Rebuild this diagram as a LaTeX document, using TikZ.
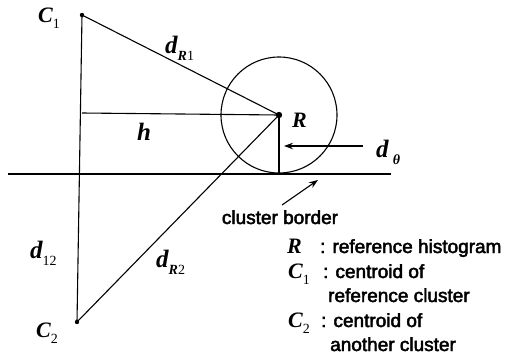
\documentclass[tikz,border=0pt]{standalone}
\usepackage{fontspec}
\setmainfont{Liberation Sans}[FakeBold=2.5]
\newfontfamily\mifont{Liberation Serif}
\usetikzlibrary{arrows.meta}
\newcommand\mv[1]{{\mifont\bfseries\itshape #1}}
\newcommand\mup[1]{{\mifont #1}}
\newcommand\sbs[1]{\raisebox{-0.3em}{\fontsize{14}{14}\selectfont #1}}
\begin{document}
\begin{tikzpicture}[x=1pt,y=-1pt,
  thinline/.style={line width=1.1pt},
  thickline/.style={line width=2.8pt},
  lab/.style={anchor=base west,inner sep=0pt,font=\fontsize{25}{25}\selectfont},
  capl/.style={anchor=base west,inner sep=0pt,font=\fontsize{22}{22}\selectfont},
  leg/.style={anchor=base west,inner sep=0pt,font=\fontsize{19}{20}\selectfont},
  arr/.style={line width=1.1pt,-{Stealth[length=9pt,width=6.5pt]}}]
\useasboundingbox (0,0) rectangle (511,359);
% points
\coordinate (C1) at (82,15);
\coordinate (C2) at (77,322);
\coordinate (R) at (279,115);
\coordinate (H) at (82,113);
\coordinate (F) at (279,173);
\coordinate (BL) at (8,174);
\coordinate (BR) at (391,174);
\coordinate (DT) at (363,146);
\coordinate (DH) at (284,146);
\coordinate (CBt) at (282,205);
\coordinate (CBh) at (318,180);
% lines
\draw[thickline] (BL) -- (BR);
\draw[thinline] (R) circle[radius=58];
\draw[thinline] (C1) -- (C2);
\draw[thinline] (C1) -- (R);
\draw[thinline] (H) -- (R);
\draw[thinline] (C2) -- (R);
\draw[line width=1.8pt] (R) -- (F);
\draw[arr] (DT) -- (DH);
\draw[arr] (CBt) -- (CBh);
\fill (C1) circle[radius=2.2];
\fill (C2) circle[radius=2.2];
\fill (R) circle[radius=3.2];
% labels
\node[capl] (lC1) at (38,22) {\mv{C}\sbs{\mup{1}}};
\node[lab] (ldR1) at (165,53) {\mv{d}\sbs{\mv{R}\mup{1}}};
\node[lab] (lh) at (137,140) {\mv{h}};
\node[capl] (lR) at (292,127) {\mv{R}};
\node[lab] (ldt) at (376,157) {\mv{d}\,\sbs{\mv{θ}}};
\node[lab] (ld12) at (30,258) {\mv{d}\sbs{\mup{12}}};
\node[lab] (ldR2) at (156,267) {\mv{d}\sbs{\mv{R}\mup{2}}};
\node[capl] (lC2) at (36,337) {\mv{C}\sbs{\mup{2}}};
\node[leg,anchor=base] (lcb) at (280,224) {cluster border};
% legend
\node[capl] (gR) at (287,253) {\mv{R}};
\node[leg] (gRt) at (320,253) {: reference histogram};
\node[capl] (gC1) at (288,278) {\mv{C}\sbs{\mup{1}}};
\node[leg] (gC1t) at (323,278) {: centroid of};
\node[leg] (gC1u) at (328,302) {reference cluster};
\node[capl] (gC2) at (288,327) {\mv{C}\sbs{\mup{2}}};
\node[leg] (gC2t) at (321,327) {: centroid of};
\node[leg] (gC2u) at (330,351) {another cluster};
\end{tikzpicture}
\end{document}
